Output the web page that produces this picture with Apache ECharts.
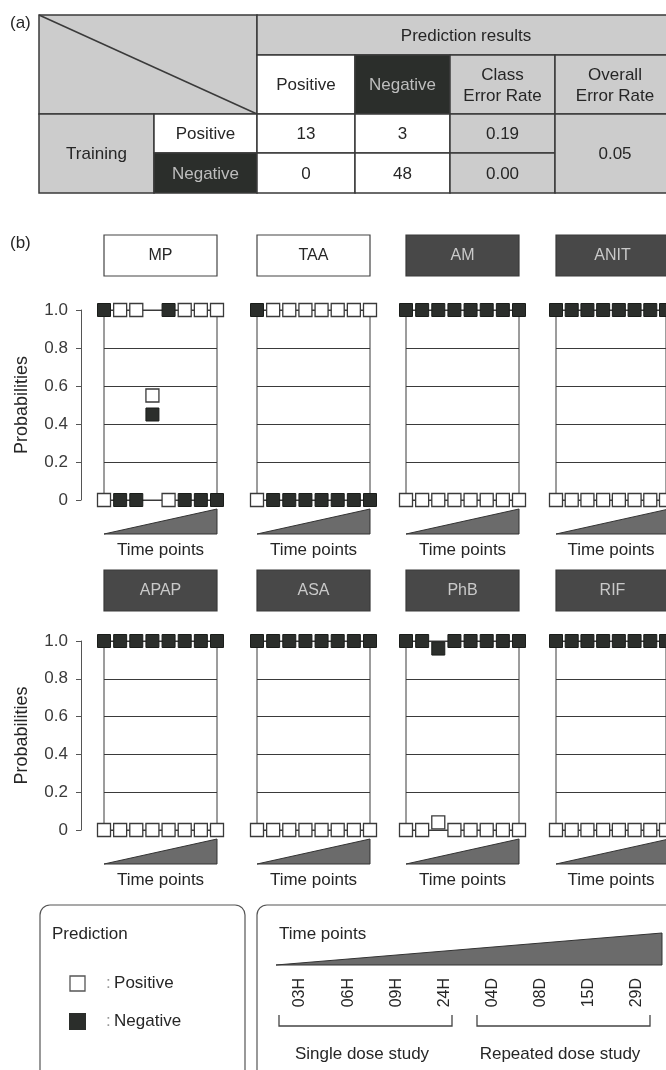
<!DOCTYPE html>
<html><head><meta charset="utf-8">
<script src="https://cdn.jsdelivr.net/npm/echarts@6/dist/echarts.min.js"></script>
<style>html,body{margin:0;padding:0;background:#fff}#c{width:666px;height:1070px}</style>
</head><body><div id="c"></div>
<script>
// ---------- data ----------
const timeLabels = ['03H','06H','09H','24H','04D','08D','15D','29D'];
const compounds = ['MP','TAA','AM','ANIT','APAP','ASA','PhB','RIF'];
const compoundType = ['Positive','Positive','Negative','Negative','Negative','Negative','Negative','Negative'];
const yTicks = [0, 0.2, 0.4, 0.6, 0.8, 1.0];
// probability of "Positive" (white) and "Negative" (black) at each time point
const posMP   = [0, 1, 1, 0.55, 0, 1, 1, 1];
const negMP   = [1, 0, 0, 0.45, 1, 0, 0, 0];
const posTAA  = [0, 1, 1, 1, 1, 1, 1, 1];
const negTAA  = [1, 0, 0, 0, 0, 0, 0, 0];
const posAM   = [0, 0, 0, 0, 0, 0, 0, 0];
const negAM   = [1, 1, 1, 1, 1, 1, 1, 1];
const posANIT = [0, 0, 0, 0, 0, 0, 0, 0];
const negANIT = [1, 1, 1, 1, 1, 1, 1, 1];
const posAPAP = [0, 0, 0, 0, 0, 0, 0, 0];
const negAPAP = [1, 1, 1, 1, 1, 1, 1, 1];
const posASA  = [0, 0, 0, 0, 0, 0, 0, 0];
const negASA  = [1, 1, 1, 1, 1, 1, 1, 1];
const posPhB  = [0, 0, 0.04, 0, 0, 0, 0, 0];
const negPhB  = [1, 1, 0.96, 1, 1, 1, 1, 1];
const posRIF  = [0, 0, 0, 0, 0, 0, 0, 0];
const negRIF  = [1, 1, 1, 1, 1, 1, 1, 1];
const posAll = [posMP, posTAA, posAM, posANIT, posAPAP, posASA, posPhB, posRIF];
const negAll = [negMP, negTAA, negAM, negANIT, negAPAP, negASA, negPhB, negRIF];

// confusion table (a)
const tableTitle = 'Prediction results';
const tableHeader = ['Positive', 'Negative', 'Class\nError Rate', 'Overall\nError Rate'];
const tableRowGroup = 'Training';
const tableRowLabels = ['Positive', 'Negative'];
const tableCounts = [[13, 3], [0, 48]];
const classErrorRate = ['0.19', '0.00'];
const overallErrorRate = '0.05';

// ---------- layout ----------
const FONT = '"Liberation Sans", Arial, sans-serif';
const TXT = '#262626';
const DARK = '#2b2e2b';
const BOX_DARK = '#484848';
const GRAY = '#cccccc';
const LINE = '#3a3a3a';

const colLeft = [104, 257, 406, 556];
const gridW = 113;
const rowTop = [310, 641];
const rowH = [190, 189];
const boxTop = [235, 570];

const grids = [], xAxes = [], yAxes = [], series = [], graphics = [];

compounds.forEach((name, i) => {
  const r = Math.floor(i / 4), c = i % 4;
  const left = colLeft[c], top = rowTop[r], h = rowH[r];
  grids.push({left: left, top: top, width: gridW, height: h, show: true,
    borderColor: LINE, borderWidth: 1, backgroundColor: 'transparent'});
  xAxes.push({type: 'category', gridIndex: i, data: timeLabels, boundaryGap: false,
    axisLine: {show: false}, axisTick: {show: false}, axisLabel: {show: false}, splitLine: {show: false},
    name: 'Time points', nameLocation: 'middle', nameGap: 42,
    nameTextStyle: {fontFamily: FONT, fontSize: 17, color: TXT}});
  const first = c === 0;
  yAxes.push({type: 'value', gridIndex: i, min: 0, max: 1, interval: 0.2,
    offset: first ? 23 : 0,
    axisLine: {show: first, lineStyle: {color: '#555', width: 1}},
    axisTick: {show: first, length: 5, lineStyle: {color: '#555'}},
    axisLabel: {show: first, margin: 13, fontFamily: FONT, fontSize: 17, color: '#3a3a3a',
      formatter: v => v === 0 ? '0' : v.toFixed(1)},
    splitLine: {show: true, lineStyle: {color: LINE, width: 1}},
    name: first ? 'Probabilities' : '', nameLocation: 'middle', nameGap: 50, nameRotate: 90,
    nameTextStyle: {fontFamily: FONT, fontSize: 18, color: TXT}});
  series.push({type: 'scatter', name: 'Negative', xAxisIndex: i, yAxisIndex: i, clip: false,
    symbol: 'rect', symbolSize: 13, data: negAll[i],
    itemStyle: {color: DARK, borderColor: '#1a1d1a', borderWidth: 1, opacity: 1}, z: 3});
  series.push({type: 'scatter', name: 'Positive', xAxisIndex: i, yAxisIndex: i, clip: false,
    symbol: 'rect', symbolSize: 13, data: posAll[i],
    itemStyle: {color: '#fff', borderColor: '#3a3a3a', borderWidth: 1.3, opacity: 1}, z: 4});

  // title box
  const dark = compoundType[i] === 'Negative';
  graphics.push({type: 'rect', shape: {x: left, y: boxTop[r], width: gridW, height: 41},
    style: {fill: dark ? BOX_DARK : '#fff', stroke: dark ? '#3a3a3a' : '#444', lineWidth: 1.2}});
  graphics.push({type: 'text', x: left + gridW / 2, y: boxTop[r] + 21,
    style: {text: name, fontFamily: FONT, fontSize: 16, fill: dark ? '#c9c9c9' : TXT,
      align: 'center', verticalAlign: 'middle'}});
  // time wedge
  const b = top + h;
  graphics.push({type: 'polygon', shape: {points: [[left, b + 34], [left + gridW, b + 9], [left + gridW, b + 34]]},
    style: {fill: '#6b6b6b', stroke: '#333', lineWidth: 1}});
});

// --- time legend axis (rotated time labels) ---
const legendGridIndex = compounds.length;
grids.push({left: 300, top: 900, width: 337, height: 76, show: false});
xAxes.push({type: 'category', gridIndex: legendGridIndex, data: timeLabels, boundaryGap: false,
  axisLine: {show: false}, axisTick: {show: false}, splitLine: {show: false},
  axisLabel: {show: true, rotate: 90, margin: 2, interval: 0, fontFamily: FONT, fontSize: 16, color: TXT}});
yAxes.push({type: 'value', gridIndex: legendGridIndex, show: false});

// ---------- table (a) ----------
const xs = [39, 154, 257, 355, 450, 555, 675];
const ys = [15, 55, 114, 153, 193];
function cell(x0, y0, x1, y1, fill, text, color) {
  graphics.push({type: 'rect', shape: {x: x0, y: y0, width: x1 - x0, height: y1 - y0},
    style: {fill: fill, stroke: LINE, lineWidth: 1.5}});
  if (text !== undefined && text !== '') {
    graphics.push({type: 'text', x: (x0 + x1) / 2, y: (y0 + y1) / 2 + 1,
      style: {text: String(text), fontFamily: FONT, fontSize: 17, fill: color || TXT,
        align: 'center', verticalAlign: 'middle', lineHeight: 21}});
  }
}
cell(xs[0], ys[0], xs[2], ys[2], GRAY);
graphics.push({type: 'line', shape: {x1: xs[0], y1: ys[0], x2: xs[2], y2: ys[2]}, style: {stroke: LINE, lineWidth: 1.5}});
cell(xs[2], ys[0], xs[6], ys[1], GRAY, tableTitle);
cell(xs[2], ys[1], xs[3], ys[2], '#fff', tableHeader[0]);
cell(xs[3], ys[1], xs[4], ys[2], DARK, tableHeader[1], '#bdbdbd');
cell(xs[4], ys[1], xs[5], ys[2], GRAY, tableHeader[2]);
cell(xs[5], ys[1], xs[6], ys[2], GRAY, tableHeader[3]);
cell(xs[0], ys[2], xs[1], ys[4], GRAY, tableRowGroup);
tableRowLabels.forEach((lab, k) => {
  const neg = k === 1;
  cell(xs[1], ys[2 + k], xs[2], ys[3 + k], neg ? DARK : '#fff', lab, neg ? '#bdbdbd' : TXT);
  cell(xs[2], ys[2 + k], xs[3], ys[3 + k], '#fff', tableCounts[k][0]);
  cell(xs[3], ys[2 + k], xs[4], ys[3 + k], '#fff', tableCounts[k][1]);
  cell(xs[4], ys[2 + k], xs[5], ys[3 + k], GRAY, classErrorRate[k]);
});
cell(xs[5], ys[2], xs[6], ys[4], GRAY, overallErrorRate);

// panel labels
graphics.push({type: 'text', x: 10, y: 23, style: {text: '(a)', fontFamily: FONT, fontSize: 17, fill: TXT, verticalAlign: 'middle'}});
graphics.push({type: 'text', x: 10, y: 243, style: {text: '(b)', fontFamily: FONT, fontSize: 17, fill: TXT, verticalAlign: 'middle'}});

// ---------- bottom legend boxes ----------
graphics.push({type: 'rect', shape: {x: 40, y: 905, width: 205, height: 200, r: 10}, style: {fill: 'transparent', stroke: '#555', lineWidth: 1.2}});
graphics.push({type: 'rect', shape: {x: 257, y: 905, width: 440, height: 200, r: 10}, style: {fill: 'transparent', stroke: '#555', lineWidth: 1.2}});
graphics.push({type: 'text', x: 52, y: 934, style: {text: 'Prediction', fontFamily: FONT, fontSize: 17, fill: TXT, verticalAlign: 'middle'}});
graphics.push({type: 'text', x: 279, y: 934, style: {text: 'Time points', fontFamily: FONT, fontSize: 17, fill: TXT, verticalAlign: 'middle'}});
graphics.push({type: 'polygon', shape: {points: [[276, 965], [662, 933], [662, 965]]}, style: {fill: '#6b6b6b', stroke: '#333', lineWidth: 1}});
graphics.push({type: 'polyline', shape: {points: [[279, 1015], [279, 1026], [452, 1026], [452, 1015]]}, style: {stroke: '#444', lineWidth: 1.3, fill: null}});
graphics.push({type: 'polyline', shape: {points: [[477, 1015], [477, 1026], [650, 1026], [650, 1015]]}, style: {stroke: '#444', lineWidth: 1.3, fill: null}});
graphics.push({type: 'text', x: 362, y: 1054, style: {text: 'Single dose study', fontFamily: FONT, fontSize: 17, fill: TXT, align: 'center', verticalAlign: 'middle'}});
graphics.push({type: 'text', x: 560, y: 1054, style: {text: 'Repeated dose study', fontFamily: FONT, fontSize: 17, fill: TXT, align: 'center', verticalAlign: 'middle'}});

const option = {
  backgroundColor: '#fff',
  animation: false,
  grid: grids, xAxis: xAxes, yAxis: yAxes, series: series,
  legend: {
    orient: 'vertical', left: 69, top: 975, padding: 0, itemWidth: 15, itemHeight: 15, itemGap: 21,
    selectedMode: false, icon: 'rect',
    data: [
      {name: 'Positive', itemStyle: {color: '#fff', borderColor: '#555', borderWidth: 1.3}},
      {name: 'Negative', itemStyle: {color: DARK, borderColor: DARK}}
    ],
    formatter: n => '{c|:} {t|' + n + '}',
    textStyle: {rich: {
      c: {fontFamily: FONT, fontSize: 17, color: '#999', padding: [0, 0, 0, 16]},
      t: {fontFamily: FONT, fontSize: 17, color: TXT}
    }}
  },
  graphic: graphics
};
echarts.init(document.getElementById('c'), null, {renderer: 'canvas'}).setOption(option);
</script>
</body></html>
